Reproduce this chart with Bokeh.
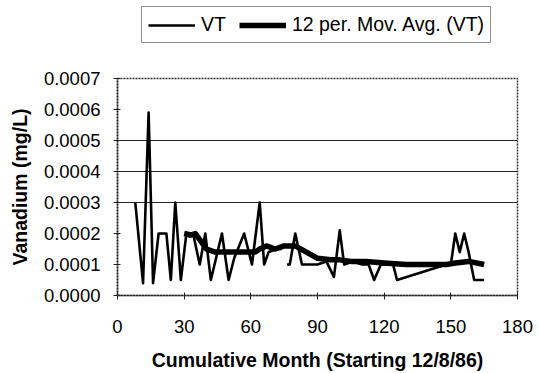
from bokeh.plotting import figure
from bokeh.layouts import column
from bokeh.models import Range1d, FixedTicker, PrintfTickFormatter, Legend, LegendItem
from bokeh.embed import file_html
from bokeh.resources import INLINE
import numpy as np

# VT measured values (cumulative month, mg/L); NaN marks a gap in the record
vt_month = [8, 11.5, 14, 16, 18.5, 22, 24, 26, 28.5, 31, 32.5, 34, 37, 39.5, 42, 47, 50,
            52.5, 57, 60.5, 64, 66, 68, 72, 74, 75, 76.3, 77.5, 80, 83, 86, 90, 94, 97.4,
            100, 102, 106, 110, 113, 115.5, 118.5, 124, 125.8, 148, 150, 152, 154, 156,
            158, 160.5, 165]
vt_value = [0.0003, 0.00004, 0.00059, 0.00004, 0.0002, 0.0002, 0.00005, 0.0003, 0.00005,
            0.0002, 0.00019, 0.0002, 0.0001, 0.0002, 0.00005, 0.0002, 0.00005,
            0.00012, 0.0002, 0.0001, 0.0003, 0.0001, 0.00014, 0.00015, 0.00015, np.nan,
            0.0001, 0.0001, 0.0002, 0.0001, 0.0001, 0.0001, 0.00011, 0.00006,
            0.00021, 0.0001, 0.00011, 0.0001, 0.0001, 0.00005, 0.0001, 0.0001, 0.00005,
            0.0001, 0.0001, 0.0002, 0.00014, 0.0002, 0.00014, 0.00005, 0.00005]

# 12 period moving average of VT
ma_month = [30, 33, 35, 37, 40, 44, 50, 56, 62, 64, 67, 71, 75, 80, 85, 90, 96, 100,
            105, 112, 120, 130, 148, 152, 158, 165]
ma_value = [0.0002, 0.000195, 0.0002, 0.00018, 0.00015, 0.00014, 0.00014, 0.00014,
            0.00014, 0.00015, 0.00016, 0.00015, 0.00016, 0.00016, 0.00014, 0.00012,
            0.000115, 0.000115, 0.00011, 0.00011, 0.000105, 0.0001, 0.0001, 0.000105,
            0.00011, 0.0001]

series_labels = ["VT", "12 per. Mov. Avg. (VT)"]
x_ticks = [0, 30, 60, 90, 120, 150, 180]
y_ticks = [0.0, 0.0001, 0.0002, 0.0003, 0.0004, 0.0005, 0.0006, 0.0007]
grid_values = [0.0003, 0.0004, 0.0005]

FONT = "Liberation Sans"
VT_W = 2.6
MA_W = 5.5

# ---------------- main chart ----------------
p = figure(width=539, height=329, output_backend="svg", toolbar_location=None,
           x_range=Range1d(0, 180), y_range=Range1d(0, 0.0007),
           min_border_left=117, min_border_right=22, min_border_top=34,
           min_border_bottom=77)
p.background_fill_color = "white"
p.border_fill_color = "white"
p.outline_line_color = "#333333"
p.outline_line_dash = "2 1"
p.outline_line_width = 1.5

p.xgrid.visible = False
p.ygrid.ticker = FixedTicker(ticks=grid_values)
p.ygrid.grid_line_color = "black"
p.ygrid.grid_line_width = 1
p.ygrid.grid_line_alpha = 0.85

for ax in (p.xaxis[0], p.yaxis[0]):
    ax.axis_line_color = "#222222"
    ax.axis_line_dash = "2 1"
    ax.axis_line_width = 1.5
    ax.major_tick_line_color = "#222222"
    ax.minor_tick_line_color = None
    ax.major_label_text_font = FONT
    ax.major_label_text_font_size = "18.5px"
    ax.major_label_text_color = "black"
    ax.axis_label_text_font = FONT
    ax.axis_label_text_font_style = "bold"
    ax.axis_label_text_font_size = "19.5px"
    ax.axis_label_text_color = "black"
    ax.major_tick_out = 4
    ax.major_tick_in = 3

p.xaxis.ticker = FixedTicker(ticks=x_ticks)
p.yaxis.ticker = FixedTicker(ticks=y_ticks)
p.yaxis.formatter = PrintfTickFormatter(format="%.4f")
p.xaxis.axis_label = "Cumulative Month (Starting 12/8/86)"
p.yaxis.axis_label = "Vanadium (mg/L)"
p.xaxis.major_label_standoff = 20
p.xaxis.axis_label_standoff = 13
p.yaxis.major_label_standoff = 13
p.yaxis.axis_label_standoff = 10

p.line(vt_month, vt_value, line_color="black", line_width=VT_W, line_join="round")
p.line(ma_month, ma_value, line_color="black", line_width=MA_W, line_join="round")

# ---------------- legend strip above the chart ----------------
pl = figure(width=539, height=44, output_backend="svg", toolbar_location=None,
            x_range=Range1d(0, 1), y_range=Range1d(0, 1),
            min_border_left=0, min_border_right=0, min_border_top=0, min_border_bottom=0)
pl.axis.visible = False
pl.grid.visible = False
pl.outline_line_color = None
pl.background_fill_color = "white"
pl.border_fill_color = "white"
# key-only renderers (their points lie outside the visible range)
k_vt = pl.line([-2, -1], [-2, -1], line_color="black", line_width=VT_W)
k_ma = pl.line([-2, -1], [-2, -1], line_color="black", line_width=MA_W)

legend = Legend(items=[LegendItem(label=series_labels[0], renderers=[k_vt]),
                       LegendItem(label=series_labels[1], renderers=[k_ma])],
                orientation="horizontal", location=(24, 1))
legend.label_text_font = FONT
legend.label_text_font_size = "19.5px"
legend.label_text_color = "black"
legend.glyph_width = 47
legend.glyph_height = 18
legend.label_standoff = 6
legend.spacing = 13
legend.padding = 6
legend.margin = 0
legend.border_line_color = "#222222"
legend.border_line_width = 1.2
legend.background_fill_color = "white"
legend.background_fill_alpha = 1
pl.add_layout(legend, "center")

layout = column(pl, p, spacing=0)
open("out.html", "w").write(file_html(layout, INLINE))
